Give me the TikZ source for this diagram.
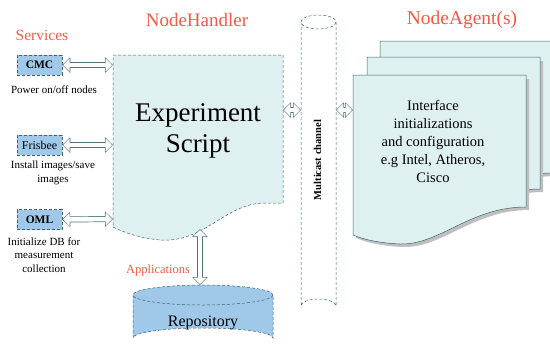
\documentclass[tikz,border=0pt]{standalone}
\usepackage{fontspec}
\setmainfont{Liberation Serif}
\usetikzlibrary{arrows.meta}
\definecolor{docfill}{RGB}{222,240,240}
\definecolor{boxfill}{RGB}{160,200,232}
\definecolor{lblred}{RGB}{240,90,70}
\definecolor{edge}{RGB}{60,100,110}
\tikzset{
  fs/.style={font=\fontsize{#1}{#1}\selectfont},
  svcbox/.style={draw=edge, densely dashed, line width=0.5pt, fill=boxfill, minimum width=45pt, minimum height=20pt, inner sep=0pt, font=\fontsize{11.5}{13}\selectfont\bfseries},
  note/.style={align=center, inner sep=0pt, font=\fontsize{11}{13.5}\selectfont},
  redlbl/.style={text=lblred, inner sep=0pt},
  dbl/.style={
    preaction={draw=edge!90, line width=6pt, shorten >=0pt, shorten <=0pt,
      {Triangle[length=8pt 0 0, width=15pt 0 0]}-{Triangle[length=8pt 0 0, width=15pt 0 0]}},
    draw=white, line width=4.6pt, shorten >=1pt, shorten <=1pt,
    {Triangle[length=6.3pt 0 0, width=12.6pt 0 0]}-{Triangle[length=6.3pt 0 0, width=12.6pt 0 0]}},
  docshape/.style={draw=edge, line width=0.5pt, fill=docfill},
}
\begin{document}
\begin{tikzpicture}[x=1pt,y=-1pt]
\useasboundingbox (0,0) rectangle (550,346);
\clip (0,0) rectangle (550,346);
% labels
\node[redlbl, fs=15.5] (services) at (42,35) {Services};
\node[redlbl, fs=19] (nh) at (197,20) {NodeHandler};
\node[redlbl, fs=19.5] (na) at (462,20) {NodeAgent(s)};
% NodeAgent stacked documents
\foreach \dx/\dy in {27/-34, 14/-18, 0/0}{
  \begin{scope}[shift={(\dx,\dy)}]
    \fill[gray!50] (356,79) -- (529,79) -- (529,210) .. controls (473,210) and (443,248) .. (403,247) .. controls (383,246) and (368,243) .. (356,238) -- cycle;
    \path[docshape] (353,75) -- (526,75) -- (526,207) .. controls (470,207) and (440,245) .. (400,244) .. controls (380,243) and (365,240) .. (353,235) -- cycle;
  \end{scope}
}
\node[align=center, inner sep=0pt, font=\fontsize{14.5}{18}\selectfont] (agenttxt) at (433,141) {Interface\\initializations\\and configuration\\e.g Intel, Atheros,\\Cisco};
% Experiment script document
\path[docshape, densely dashed] (113,55) -- (283,55) -- (283,203) -- (265,203) .. controls (225,203) and (205,243) .. (160,240) .. controls (140,238) and (125,233) .. (113,227) -- cycle;
\node[align=center, inner sep=0pt, font=\fontsize{27}{31}\selectfont] (exp) at (198,131) {Experiment\\Script};
% multicast channel cylinder
\path[draw=edge, densely dashed, line width=0.5pt, fill=white] (301,22) -- (301,306) arc[start angle=180, end angle=360, x radius=17.5, y radius=7] -- (336,22);
\draw[edge, densely dashed, line width=0.5pt, fill=white] (318.5,22) ellipse[x radius=17.5, y radius=7];
\node[rotate=90, inner sep=0pt, font=\fontsize{10.5}{13}\selectfont\bfseries] (mc) at (317.5,160) {Multicast channel};
% repository cylinder
\path[draw=edge, densely dashed, line width=0.5pt, fill=boxfill] (133,295) -- (133,338) arc[start angle=180, end angle=360, x radius=70, y radius=10] -- (273,295);
\draw[edge, densely dashed, line width=0.5pt, fill=boxfill] (203,295) ellipse[x radius=70, y radius=10];
\node[inner sep=0pt, font=\fontsize{16}{19}\selectfont] (repo) at (203,323) {Repository};
% service boxes
\node[svcbox] (cmc) at (39.5,65) {CMC};
\node[svcbox, font=\fontsize{12}{14}\selectfont] (fris) at (39.5,145) {Frisbee};
\node[svcbox] (oml) at (39.5,219.5) {OML};
\node[note] (cmcnote) at (54,90) {Power on/off nodes};
\node[note] (frisnote) at (53,173) {Install images/save\\images};
\node[note] (omlnote) at (44,255) {Initialize DB for\\measurement\\collection};
\node[redlbl, fs=12.5] (apps) at (158,270) {Applications};
% connector anchors
\coordinate (docA) at (113,65);
\coordinate (docB) at (113,145);
\coordinate (docC) at (113,219);
\coordinate (docR) at (283,110);
\coordinate (mcL) at (301,110);
\coordinate (mcR) at (336,110);
\coordinate (agL) at (353,110);
\coordinate (docBot) at (200,229);
\coordinate (repoTop) at (200,285);
\draw[dbl] (cmc.east) -- (docA);
\draw[dbl] (fris.east) -- (docB);
\draw[dbl] (oml.east) -- (docC);
\draw[dbl] (docR) -- (mcL);
\draw[dbl] (mcR) -- (agL);
\draw[dbl] (docBot) -- (repoTop);
\end{tikzpicture}
\end{document}
